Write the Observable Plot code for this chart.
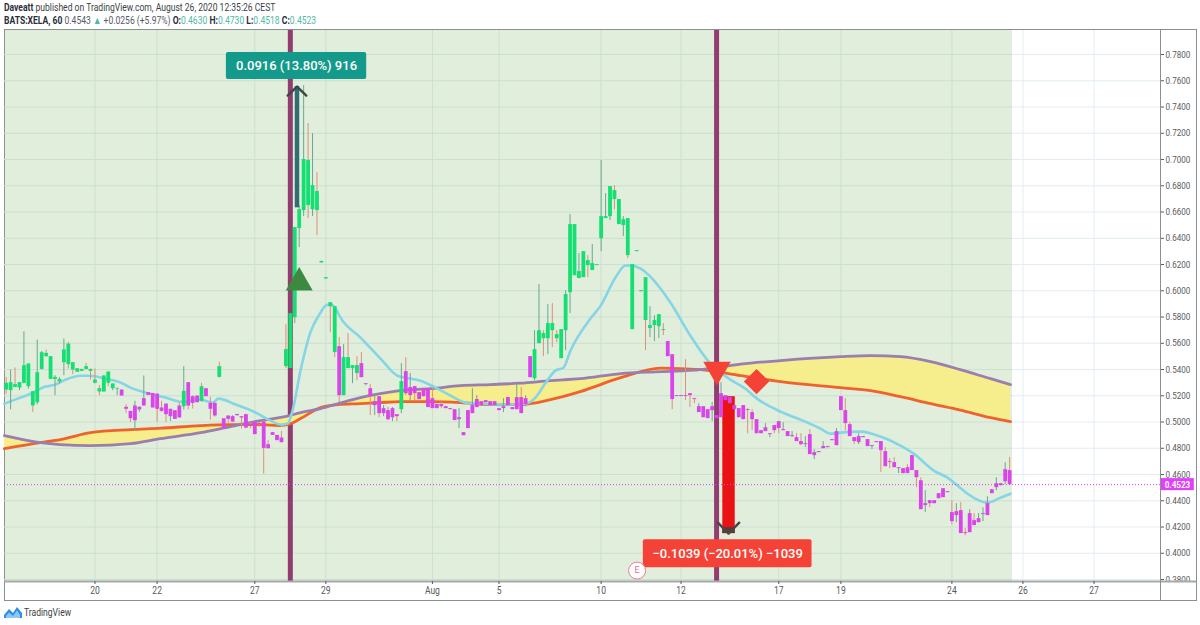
<!DOCTYPE html>
<html><head><meta charset="utf-8">
<style>
html,body{margin:0;padding:0;background:#fff;width:1200px;height:625px;overflow:hidden;font-family:Roboto,sans-serif}
#wrap{position:relative;width:1200px;height:625px}
#head{height:29px;padding-left:4px;box-sizing:border-box;font-size:10.5px;line-height:12.5px;color:#3a3f46;padding-top:2px;white-space:nowrap;transform:scaleX(.815);transform-origin:4px 0}
#head b{font-weight:700;color:#2a2e39}
#head .t{color:#53b99f}
#head .g{color:#555b66}
#frame{position:absolute;left:4px;top:29px;width:1191px;height:570px;border:1px solid #8a8f92;pointer-events:none}
#chart{position:absolute;left:0;top:30px}
#foot{position:absolute;left:4px;top:605px;height:14px;display:flex;align-items:center;gap:2px;font-size:10.5px;color:#3a3f46}
#foot span{display:inline-block;transform:scaleX(.815);transform-origin:0 50%}
</style></head><body>
<script src="https://cdn.jsdelivr.net/npm/d3@7"></script>
<script src="https://cdn.jsdelivr.net/npm/@observablehq/plot@0.6"></script>
<div id="wrap">
<div id="head"><div><b>Daveatt</b> published on TradingView.com, August 26, 2020 12:35:26 CEST</div>
<div><b>BATS:XELA, 60</b> <span class="g">0.4543</span> <span class="t">▲</span> <span class="g">+0.0256 (+5.97%)</span> <b>O:</b><span class="t">0.4630</span> <b>H:</b><span class="t">0.4730</span> <b>L:</b><span class="t">0.4518</span> <b>C:</b><span class="t">0.4523</span></div></div>
<div id="frame"></div>
<div id="chart"></div>
<div id="foot"><svg width="18" height="13" viewBox="0 0 18 13"><path d="M0 9 L5 3 L9 7 L13 1 L18 7 L18 12 L0 12 Z" fill="#2e8fe8"/><path d="M2 10 L5 6.5 L9 10 L13 4.5 L16 9 L16 12 L2 12 Z" fill="#8cc8f5"/></svg><span>TradingView</span></div>
</div>
<script>
const bodyTop=[
.5295,.5300,.5285,.5300,.5429,.5442,.5231,.5376,.5528,.5523,
.5498,.5340,.5325,.5549,.5594,.5452,.5406,.5401,.5422,.5401,
.5320,.5254,.5351,.5381,.5290,.5254,.5244,.5112,.5081,.5122,
.5112,.5178,.5224,.5218,.5213,.5107,.5137,.5097,.5086,.5122,
.5234,.5300,.5193,.5198,.5269,.5254,.5142,.5142,.5422,.5025,
.5046,.5041,.5058,.5041,.5056,.4980,.5000,.4990,.5000,.4827,
.4919,.4898,.4878,.5552,.5826,.6481,.6618,.7000,.6992,.6801,
.6756,.6224,.6100,.5909,.5878,.5574,.5491,.5491,.5430,.5430,
.5445,.5292,.5254,.5155,.5193,.5102,.5087,.5102,.5056,.5308,
.5384,.5262,.5270,.5224,.5254,.5254,.5178,.5133,.5133,.5117,
.5102,.5094,.5033,.4919,.5087,.5125,.5171,.5155,.5163,.5155,
.5155,.5102,.5117,.5186,.5110,.5186,.5186,.5178,.5498,.5552,
.5696,.5674,.5750,.5750,.5666,.5704,.5971,.6504,.6504,.6146,
.6298,.6230,.6207,.6199,.6565,.6565,.6794,.6763,.6695,.6542,
.6550,.6199,.6306,.6001,.6100,.5735,.5773,.5818,.5704,.5613,
.5513,.5201,.5201,.5201,.5216,.5178,.5117,.5117,.5094,.5117,
.5049,.5216,.5201,.5186,.5125,.5102,.5125,.5094,.5072,.5018,
.4934,.4957,.4911,.4973,.5003,.4942,.4927,.4896,.4881,.4851,
.4835,.4904,.4767,.4775,.4813,.4813,.4866,.4927,.5193,.5087,
.4980,.4881,.4889,.4889,.4866,.4820,.4851,.4851,.4775,.4698,
.4691,.4652,.4645,.4652,.4744,.4630,.4553,.4378,.4401,.4401,
.4454,.4492,.4470,.4310,.4317,.4325,.4157,.4302,.4249,.4264,
.4302,.4378,.4484,.4530,.4530,.4637,.4630];
const bodyBottom=[
.5244,.5239,.5264,.5259,.5295,.5269,.5122,.5147,.5401,.5498,
.5325,.5325,.5305,.5452,.5437,.5396,.5379,.5386,.5401,.5386,
.5295,.5229,.5229,.5295,.5254,.5249,.5198,.5097,.5025,.5010,
.5092,.5122,.5203,.5107,.5097,.5081,.5056,.5041,.5020,.5031,
.5117,.5122,.5142,.5147,.5157,.5193,.5097,.5046,.5340,.4949,
.5020,.5000,.5048,.5031,.4954,.4970,.4904,.4980,.4799,.4797,
.4898,.4858,.4843,.5422,.5407,.5795,.6474,.6611,.6649,.6618,
.6611,.6212,.6090,.5878,.5529,.5201,.5201,.5407,.5407,.5369,
.5338,.5285,.5193,.5125,.5064,.5064,.5018,.5033,.5041,.5094,
.5216,.5201,.5216,.5171,.5193,.5110,.5102,.5102,.5117,.5102,
.5094,.5011,.5018,.4896,.4950,.5064,.5110,.5125,.5148,.5125,
.5125,.5087,.5102,.5125,.5094,.5094,.5064,.5133,.5338,.5330,
.5597,.5635,.5635,.5696,.5635,.5483,.5696,.5986,.6115,.6093,
.6100,.6192,.6154,.6192,.6397,.6550,.6565,.6695,.6504,.6497,
.6268,.5704,.6298,.5993,.5773,.5712,.5735,.5727,.5697,.5498,
.5171,.5194,.5194,.5194,.5201,.5171,.5072,.5033,.5026,.5087,
.5026,.5033,.5163,.5140,.5094,.5033,.5018,.5087,.5018,.4911,
.4911,.4927,.4904,.4934,.4950,.4934,.4889,.4889,.4851,.4828,
.4828,.4752,.4744,.4767,.4797,.4805,.4858,.4820,.5087,.4988,
.4889,.4851,.4843,.4881,.4813,.4813,.4843,.4782,.4660,.4691,
.4652,.4645,.4607,.4607,.4630,.4576,.4332,.4363,.4378,.4378,
.4416,.4424,.4462,.4241,.4287,.4150,.4150,.4157,.4211,.4233,
.4295,.4287,.4454,.4500,.4515,.4545,.4523];
const wickTop=[
.5340,.5396,.5412,.5300,.5688,.5442,.5231,.5625,.5538,.5549,
.5498,.5353,.5340,.5632,.5607,.5452,.5406,.5401,.5447,.5404,
.5404,.5277,.5351,.5381,.5290,.5259,.5244,.5132,.5081,.5158,
.5117,.5351,.5224,.5218,.5213,.5158,.5137,.5097,.5086,.5147,
.5422,.5300,.5201,.5198,.5295,.5254,.5188,.5150,.5455,.5025,
.5048,.5048,.5058,.5041,.5061,.4990,.5000,.4997,.5010,.4858,
.4919,.4898,.4929,.5742,.5826,.6481,.6649,.7563,.7274,.7198,
.6900,.6224,.6100,.5909,.5878,.5643,.5590,.5674,.5430,.5498,
.5529,.5292,.5285,.5201,.5193,.5125,.5110,.5110,.5056,.5445,
.5491,.5369,.5270,.5224,.5254,.5254,.5262,.5133,.5163,.5117,
.5102,.5094,.5102,.4919,.5087,.5254,.5201,.5155,.5163,.5155,
.5155,.5102,.5178,.5186,.5110,.5285,.5262,.5201,.5498,.5696,
.6047,.5696,.5894,.5902,.5696,.5704,.6001,.6580,.6504,.6283,
.6298,.6268,.6352,.6199,.6992,.6740,.6794,.6801,.6695,.6565,
.6550,.6199,.6306,.6001,.6100,.5879,.5811,.5818,.5750,.5613,
.5513,.5201,.5201,.5475,.5216,.5178,.5140,.5117,.5094,.5148,
.5049,.5300,.5201,.5186,.5125,.5102,.5125,.5102,.5094,.5018,
.4934,.4988,.4911,.4973,.5003,.4995,.4927,.4927,.4911,.4911,
.4889,.4942,.4790,.4775,.4851,.4813,.4866,.4950,.5193,.5178,
.4995,.4881,.4911,.4889,.4866,.4820,.4851,.4851,.4805,.4721,
.4729,.4652,.4645,.4675,.4744,.4630,.4576,.4477,.4401,.4401,
.4454,.4492,.4470,.4401,.4378,.4386,.4188,.4332,.4302,.4302,
.4347,.4431,.4484,.4576,.4530,.4690,.4730];
const wickBottom=[
.5213,.5094,.5264,.5239,.5290,.5251,.5074,.5132,.5396,.5493,
.5325,.5201,.5285,.5353,.5404,.5361,.5379,.5386,.5396,.5320,
.5290,.5201,.5229,.5269,.5239,.5201,.5198,.5066,.4997,.4934,
.5074,.5122,.5203,.5107,.4997,.5074,.4997,.5005,.5020,.5031,
.5092,.5092,.5099,.5147,.5150,.5193,.5015,.5036,.5335,.4947,
.4990,.4997,.5048,.4947,.4947,.4947,.4904,.4959,.4604,.4794,
.4898,.4858,.4840,.5407,.5407,.5750,.6329,.6565,.6550,.6565,
.6420,.6212,.6090,.5681,.5491,.5148,.5201,.5407,.5292,.5315,
.5338,.5277,.5049,.5049,.5033,.5041,.5011,.5003,.5003,.5064,
.5201,.5163,.5163,.5171,.5193,.5110,.5102,.5102,.5102,.5102,
.5094,.5011,.4950,.4896,.4950,.5064,.5110,.5125,.5148,.5125,
.5125,.5087,.5072,.5125,.5094,.5094,.5064,.5117,.5338,.5315,
.5597,.5498,.5513,.5567,.5605,.5483,.5544,.5826,.6115,.6093,
.6100,.6100,.6154,.6192,.6298,.6550,.6535,.6618,.6504,.6413,
.6245,.5704,.6298,.5993,.5544,.5643,.5613,.5635,.5658,.5498,
.5094,.5194,.5194,.5163,.5110,.5140,.5072,.5033,.5026,.5003,
.5026,.5033,.5163,.5140,.5094,.5033,.5018,.4911,.4934,.4911,
.4911,.4927,.4881,.4911,.4911,.4934,.4889,.4881,.4851,.4820,
.4805,.4752,.4714,.4767,.4797,.4805,.4858,.4820,.5087,.4934,
.4889,.4828,.4828,.4881,.4813,.4790,.4843,.4614,.4660,.4645,
.4652,.4607,.4607,.4607,.4630,.4500,.4332,.4310,.4348,.4378,
.4416,.4424,.4462,.4218,.4233,.4150,.4134,.4157,.4211,.4233,
.4241,.4287,.4454,.4477,.4515,.4523,.4515];
const bodyKind=("gggggggggg"+"gggggggggg"+"ggggggmmmm"+"mmmmmmmmmm"+"gmmmgmmmgm"+"mmmmmmmmmm"+"mmmggggggg"+"gggggmgggg"+"mmmmmmmmmg"
+"mmmmmmmmmm"+"mmmmmmmmmm"+"mmmmmmmmmg"+"gggggggggg"+"gggggggggg"+"gggggggggm"
+"mmmmmmmmmm"+"mmmmmmmmmm"+"mmmmmmmmmm"+"mmmmmmmmmm"+"mmmmmmmmmm"+"mmmmmmmmmm"+"mmmmmmmmmm"+"mmmmmmm");
const wickKind=("rgrgggrggr"+"ggrgrrggrr"+"rrgrggrrrg"+"ggrrrrrggr"+"grrrrrrrrr"+"rggrrrrrrr"+"ggrrggggrg"+"rggrrrgrgr"+"rgrgrgggrg"
+"rgrgggrgrg"+"gggggggggg"+"ggggggrggg"+"grgrrggggg"+"grgggggrgg"+"rgggrgggrg"+"rrrrrrgggg"+"gggggggrrg"+"gggrrgggrr"+"grgggggggr"
+"rrgggggrrr"+"rggrgrrgrg"+"gggrgrrgrg"+"ggggggr");

// Slow / fast moving averages (bar index, price)
const bandIndex=[-0.4,7.7,12.2,19,28,34.8,43.8,50.5,57.3,61.5,63.8,66.3,70.8,74.8,79.8,84.3,88.8,95.6,102.3,109.1,115.8,122.6,129.3,138.4,147.4,156.4,165.4,174.4,187.9,194.7,201.4,208.2,214.9,221.7,226.2];
const slowLine=[.4896,.4843,.4828,.4820,.4835,.4873,.4919,.4965,.5011,.5033,.5049,.5072,.5102,.5140,.5186,.5216,.5239,.5254,.5277,.5285,.5296,.5315,.5330,.5369,.5384,.5399,.5441,.5468,.5498,.5506,.5498,.5460,.5399,.5330,.5285];
const fastLine=[.4797,.4843,.4866,.4919,.4942,.4953,.4973,.4980,.4980,.4973,.4984,.5026,.5110,.5133,.5140,.5148,.5155,.5155,.5148,.5133,.5133,.5171,.5232,.5338,.5411,.5399,.5353,.5308,.5262,.5239,.5193,.5140,.5091,.5033,.5003];
const emaIndex=[-0.4,3.2,5.5,8.9,11.1,13.4,16.7,19,22.4,25.8,28,31.4,35.9,39.3,43.8,46.5,47.8,51.7,56.2,59.5,62,63.4,64.5,66.3,68.5,70.8,71.7,72.6,73.4,74.2,75.3,79.8,84.3,88.1,89.9,93.3,96.7,100.1,103.5,106.8,113.6,117,119.2,121.5,123.7,125.5,127.1,131.6,133.9,137.2,139.5,140.6,142.9,147.4,149.6,154.1,158.6,163.1,166.5,168.8,174.4,178.9,183.4,185.7,187.9,192.4,196.9,201.4,204.4,208.9,212,214.3,216.5,221,224,226.2];
const emaLine=[.5140,.5186,.5216,.5270,.5285,.5323,.5353,.5353,.5330,.5300,.5262,.5224,.5186,.5155,.5171,.5148,.5178,.5133,.5072,.5011,.4980,.4988,.5087,.5392,.5681,.5834,.5879,.5895,.5891,.5864,.5795,.5643,.5483,.5353,.5338,.5315,.5262,.5201,.5148,.5140,.5133,.5140,.5186,.5300,.5392,.5414,.5544,.5788,.5887,.6100,.6192,.6192,.6169,.6016,.5910,.5658,.5445,.5323,.5254,.5186,.5079,.5018,.4950,.4911,.4919,.4927,.4889,.4820,.4759,.4630,.4576,.4515,.4454,.4386,.4424,.4454];

// Axes
const xTicks=[20,34,56,72,96,111,134,152,174,188,213,229,245];
const xLabels=["20","22","27","29","Aug","5","10","12","17","19","24","26","27"];
const yTicks=[.78,.76,.74,.72,.70,.68,.66,.64,.62,.60,.58,.56,.54,.52,.50,.48,.46,.44,.42,.40,.38];

const xMin=-0.376,xMax=259.98,xRight=268.1,seriesEnd=226.65,yMin=.3785,yMax=.7983;
const lastPrice=.4523;
const entryBars=[64,160];

const bars=bodyTop.map((t,i)=>({i,t,b:bodyBottom[i],h:wickTop[i],l:wickBottom[i],k:bodyKind[i],w:wickKind[i]}));
const band=bandIndex.map((i,j)=>({i,slow:slowLine[j],fast:fastLine[j]}));
const ema=emaIndex.map((i,j)=>({i,v:emaLine[j]}));
const arrowUp=[{i:63.4,v:.7487},{i:65.5,v:.7556},{i:67.6,v:.7487}];
const arrowDown=[{i:160.3,v:.4233},{i:162.7,v:.4150},{i:165.1,v:.4233}];
const one=[0];

const chart=Plot.plot({
  width:1200,height:570,marginTop:0,marginBottom:19,marginLeft:4,marginRight:40,
  x:{domain:[xMin,xMax],axis:null},
  y:{domain:[yMin,yMax],axis:null},
  style:{background:"transparent",color:"#565b62",fontFamily:"Roboto,sans-serif",fontSize:"10px",overflow:"visible"},
  marks:[
    Plot.ruleX(xTicks,{stroke:"#e2edf3",strokeWidth:1}),
    Plot.ruleY(yTicks,{stroke:"#e2edf3",strokeWidth:1}),
    Plot.rect(one,{x1:xMin,x2:seriesEnd,y1:yMin,y2:yMax,fill:"#7cb464",fillOpacity:.23}),
    Plot.ruleX(entryBars,{stroke:"#923d6f",strokeWidth:5}),
    Plot.areaY(band,{x:"i",y1:"slow",y2:"fast",fill:"#f6ed8d",curve:"monotone-x"}),
    Plot.line(band,{x:"i",y:"fast",stroke:"#f0622b",strokeWidth:2.8,curve:"monotone-x"}),
    Plot.line(band,{x:"i",y:"slow",stroke:"#9a7fae",strokeWidth:2.8,curve:"monotone-x"}),
    Plot.line(ema,{x:"i",y:"v",stroke:"#84d5e6",strokeWidth:2.6,curve:"monotone-x"}),
    Plot.rect(one,{x1:161.4,x2:164.2,y1:.4150,y2:.5193,fill:"#ea1212"}),
    Plot.rect(one,{x1:161.4,x2:164.2,y1:.4150,y2:.4195,fill:"#5b3a3c"}),
    Plot.ruleX(bars.filter(d=>d.w==="g"),{x:"i",y1:"l",y2:"h",stroke:"#6aa793",strokeWidth:1}),
    Plot.ruleX(bars.filter(d=>d.w==="r"),{x:"i",y1:"l",y2:"h",stroke:"#dc9078",strokeWidth:1}),
    Plot.ruleX(bars.filter(d=>d.k==="g"),{x:"i",y1:"b",y2:"t",stroke:"#14df72",strokeWidth:3.8}),
    Plot.ruleX(bars.filter(d=>d.k==="m"),{x:"i",y1:"b",y2:"t",stroke:"#d945ea",strokeWidth:3.8}),
    Plot.ruleY([lastPrice],{stroke:"#d945ea",strokeWidth:1,strokeDasharray:"1,2"}),
    Plot.ruleX(one.map(()=>65.5),{y1:.6632,y2:.7556,stroke:"#2f6e72",strokeWidth:4.5}),
    Plot.line(arrowUp,{x:"i",y:"v",stroke:"#3d474a",strokeWidth:2.4}),
    Plot.line(arrowDown,{x:"i",y:"v",stroke:"#4a4648",strokeWidth:2.4}),
    Plot.dot(one,{x:()=>66,y:()=>.6062,symbol:"triangle",r:10,fill:"#3c8a3f"}),
    Plot.dot(one,{x:()=>160.1,y:()=>.5399,symbol:"triangle",r:10.2,fill:"#f44336",rotate:180}),
    Plot.dot(one,{x:()=>169,y:()=>.5308,symbol:"square",r:10.15,fill:"#f44336",rotate:45}),
    Plot.rect(one,{x1:49.6,x2:81.2,y1:.7609,y2:.7815,fill:"#149a8a",rx:2}),
    Plot.text(["0.0916 (13.80%) 916"],{x:65.4,y:.7712,fill:"#fff",fontSize:13,fontWeight:500}),
    Plot.rect(one,{x1:143.5,x2:181.5,y1:.3890,y2:.4104,fill:"#f44336",rx:2}),
    Plot.text(["−0.1039 (−20.01%) −1039"],{x:162.5,y:.3997,fill:"#fff",fontSize:13,fontWeight:500}),
    Plot.dot(one,{x:()=>142.1,y:()=>.3868,r:8.5,fill:"#fff",stroke:"#e87d9a",strokeWidth:1}),
    Plot.text(["E"],{x:142.1,y:.3868,fill:"#e5708f",fontSize:9}),
    Plot.axisY({anchor:"right",ticks:yTicks,tickFormat:".4f",tickSize:3,tickPadding:2,label:null,fontSize:9.5}),
    Plot.rect(one,{x1:xMax,x2:xRight,y1:.3650,y2:yMin,fill:"#fff"}),
    Plot.rect(one,{x1:xMax,x2:267.6,y1:.4477,y2:.4569,fill:"#e040fb"}),
    Plot.text(["0.4523"],{x:263.8,y:lastPrice,fill:"#fff",fontSize:9.5,fontWeight:700}),
    Plot.ruleY([yMin],{x1:xMin,x2:xRight,stroke:"#a5aaa8",strokeWidth:2}),
    Plot.ruleX([xMax],{y1:.3640,y2:yMax,stroke:"#8a8f92",strokeWidth:1}),
    Plot.axisX({anchor:"bottom",ticks:xTicks,tickFormat:d=>xLabels[xTicks.indexOf(d)],tickSize:3,tickPadding:2,label:null,fontSize:10})
  ]
});
document.getElementById("chart").appendChild(chart);
// The reference's small labels are horizontally condensed: narrow the real text to its width.
const narrow=t=>{t.setAttribute("textLength",(t.getComputedTextLength()*.85).toFixed(1));t.setAttribute("lengthAdjust","spacingAndGlyphs");};
chart.querySelectorAll('g[aria-label="y-axis tick label"] text, g[aria-label="x-axis tick label"] text').forEach(narrow);
chart.querySelectorAll("text").forEach(t=>{if(t.textContent==="0.4523")narrow(t);});
</script>
</body></html>
